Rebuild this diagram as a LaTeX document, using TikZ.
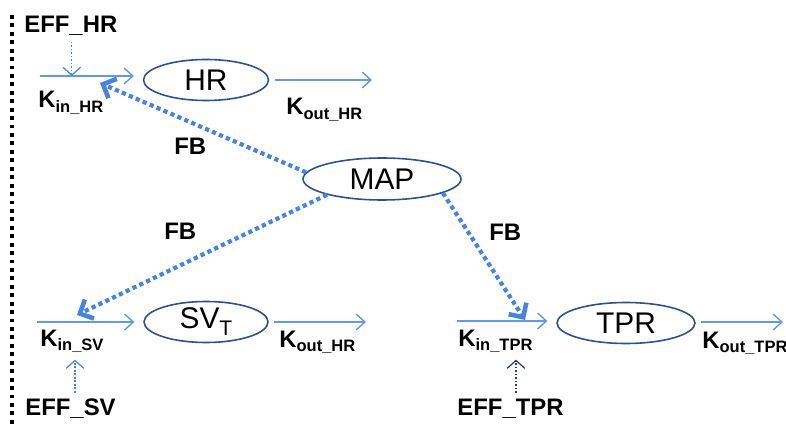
\documentclass[tikz,border=0pt]{standalone}
\usepackage{fontspec}
\setmainfont{Liberation Sans}
\usepackage{tikz}
\usetikzlibrary{arrows.meta, positioning, calc, shapes.geometric}
\definecolor{flowblue}{RGB}{102,153,224}
\definecolor{fbblue}{RGB}{72,132,222}
\definecolor{rimblue}{RGB}{44,80,150}
\definecolor{navy}{RGB}{40,58,110}

% subscripts of the rate constants
\newcommand{\ksub}[1]{\raisebox{-2.4pt}{\fontsize{9.4}{10}\selectfont #1}}

\begin{document}
\begin{tikzpicture}[x=0.02cm, y=-0.02cm,
    cmt/.style={ellipse, draw=rimblue, line width=0.9pt, inner sep=0pt,
      minimum height=0.82cm, font=\fontsize{17}{20}\selectfont},
    lab/.style={inner sep=0pt, anchor=base west, font=\fontsize{13.6}{16}\selectfont\bfseries},
    flow/.style={flowblue, line width=0.8pt, -{Straight Barb[length=5pt,width=9pt]}},
    fb/.style={fbblue, line width=2.4pt, dash pattern=on 2.4pt off 1.9pt,
      -{Straight Barb[length=6pt,width=12pt,line width=2.6pt]}},
    eff/.style={line width=0.7pt, dash pattern=on 1pt off 1pt,
      -{Straight Barb[length=4.5pt,width=10pt,line width=0.7pt]}}]
  \useasboundingbox (0,0) rectangle (786,428);

  % compartments
  \node[cmt, minimum width=2.5cm] (hr) at (206,80) {HR};
  \node[cmt, minimum width=3.16cm, minimum height=0.84cm] (map) at (382,179) {MAP};
  \node[cmt, minimum width=2.48cm] (sv) at (206,322) {SV\raisebox{-4pt}{\fontsize{12}{12}\selectfont T}};
  \node[cmt, minimum width=2.76cm] (tpr) at (626,323) {TPR};

  % rate constants and drug effects
  \node[lab] (effhr) at (24,33) {EFF\_HR};
  \node[lab] (kinhr) at (38,108) {K\ksub{in\_HR}};
  \node[lab] (kouthr) at (286,115) {K\ksub{out\_HR}};
  \node[lab] (kinsv) at (40,346) {K\ksub{in\_SV}};
  \node[lab] (koutsv) at (279,347) {K\ksub{out\_HR}};
  \node[lab] (effsv) at (25,415) {EFF\_SV};
  \node[lab] (kintpr) at (458,346) {K\ksub{in\_TPR}};
  \node[lab] (kouttpr) at (702,348) {K\ksub{out\_TPR}};
  \node[lab] (efftpr) at (457,415) {EFF\_TPR};
  \node[lab] (fbhr) at (174,155) {FB};
  \node[lab] (fbsv) at (164,240) {FB};
  \node[lab] (fbtpr) at (489,241) {FB};

  % loose ends of the flows
  \coordinate (hrin) at (40,76);
  \coordinate (hrout) at (372,80);
  \coordinate (svin) at (37,322);
  \coordinate (svout) at (366,322);
  \coordinate (tprin) at (457,321);
  \coordinate (tprout) at (783,322);
  \coordinate (hrtip) at (100,83);
  \coordinate (svtip) at (77,315);
  \coordinate (tprtip) at (525,320);

  \foreach \a/\b in {hrin/hr, svin/sv, tprin/tpr}
    \draw[flow, shorten >=5pt] (\a) -- (\a -| \b.west);
  \foreach \a/\b in {hr/hrout, sv/svout, tpr/tprout}
    \draw[flow, shorten <=3pt] (\b -| \a.east) -- (\b);

  % feedback from MAP
  \draw[fb] (map.175) -- (hrtip);
  \draw[fb] (map.196) -- (svtip);
  \draw[fb] (map.-13) -- (tprtip);

  \draw[eff, fbblue, shorten <=3pt] ([xshift=0.02cm]effhr.south) -- ([xshift=0.02cm]effhr.south |- hrin);
  \draw[eff, fbblue, shorten <=3pt, shorten >=4pt] ([xshift=0.09cm]effsv.north) -- ([xshift=0.09cm]effsv.north |- kinsv.south);
  \draw[eff, navy, shorten <=3pt, shorten >=4pt] ([xshift=0.11cm]efftpr.north) -- ([xshift=0.11cm]efftpr.north |- kintpr.south);

  \draw[line width=2.2pt, dash pattern=on 2.2pt off 2.6pt] (12,15) -- (12,428);
\end{tikzpicture}
\end{document}
